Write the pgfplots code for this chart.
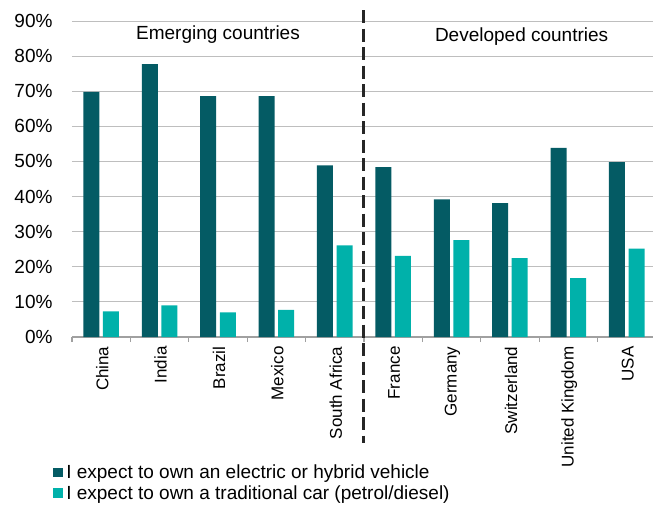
\documentclass[border=0pt]{standalone}
\usepackage{pgfplots}
\pgfplotsset{compat=1.18}
\usepackage{fontspec}
\setmainfont{Liberation Sans}
\definecolor{darkteal}{RGB}{4,91,100}
\definecolor{lightteal}{RGB}{0,177,170}
\definecolor{gridgray}{RGB}{190,190,190}
\definecolor{axgray}{RGB}{160,160,160}
\newcommand\fbig{\fontsize{19}{22}\selectfont}
\newcommand\fsmall{\fontsize{17}{20}\selectfont}
\pgfplotsset{sq legend/.style={legend image code/.code={\fill[##1] (0pt,-4.8pt) rectangle (9.6pt,4.8pt);}}}
\begin{document}
\begin{tikzpicture}
\begin{axis}[
  name=ax,
  width=581pt, height=316pt, scale only axis,
  xmin=-0.5, xmax=9.45, ymin=0, ymax=90,
  clip=false,
  axis x line*=bottom, axis y line*=left,
  x axis line style={axgray, line width=1.2pt, -},
  y axis line style={draw=none},
  ymajorgrids, grid style={gridgray, line width=1pt},
  ytick={0,10,...,90},
  yticklabel={\pgfmathprintnumber[assume math mode=true]{\tick}\%},
  yticklabel style={font=\fbig, xshift=-16pt},
  xtick={0,...,9},
  xticklabels={China,India,Brazil,Mexico,South Africa,France,Germany,Switzerland,United Kingdom,USA},
  xticklabel style={font=\fsmall, rotate=90, anchor=east, yshift=-1pt, xshift=-6pt},
  minor xtick={-0.5,0.5,...,9.5},
  major tick length=0pt, minor tick length=5pt,
  xtick align=outside,
  tick style={axgray, line width=1.2pt},
  legend style={at={(rel axis cs:-0.0324,-0.398)}, anchor=north west, draw=none, fill=none,
    font=\fbig, inner sep=0pt, row sep=2pt, column sep=1.5pt,
    nodes={inner sep=1.8pt}},
  legend cell align=left,
]
\addplot[ybar, bar width=16pt, bar shift=-9.8pt, fill=darkteal, draw=none, sq legend]
  coordinates {(0,69.8) (1,77.7) (2,68.6) (3,68.6) (4,48.9) (5,48.4) (6,39.2) (7,38.1) (8,53.9) (9,49.8)};
\addlegendentry{I expect to own an electric or hybrid vehicle}
\addplot[ybar, bar width=16pt, bar shift=9.8pt, fill=lightteal, draw=none, sq legend]
  coordinates {(0,7.3) (1,9.0) (2,7.0) (3,7.7) (4,26.1) (5,23.1) (6,27.6) (7,22.5) (8,16.8) (9,25.2)};
\addlegendentry{I expect to own a traditional car (petrol/diesel)}
\draw[black!85, line width=3pt, dash pattern=on 13pt off 5.5pt] (axis cs:4.5,93.1) -- (axis cs:4.5,-30.3);
\node[font=\fbig] at (axis cs:2.0,86) {Emerging countries};
\node[font=\fbig] at (axis cs:7.2,85.7) {Developed countries};
\end{axis}
\pgfresetboundingbox
\path ([shift={(-72pt,-169pt)}]ax.south west) rectangle ([shift={(581pt,337pt)}]ax.south west);
\end{tikzpicture}
\end{document}
